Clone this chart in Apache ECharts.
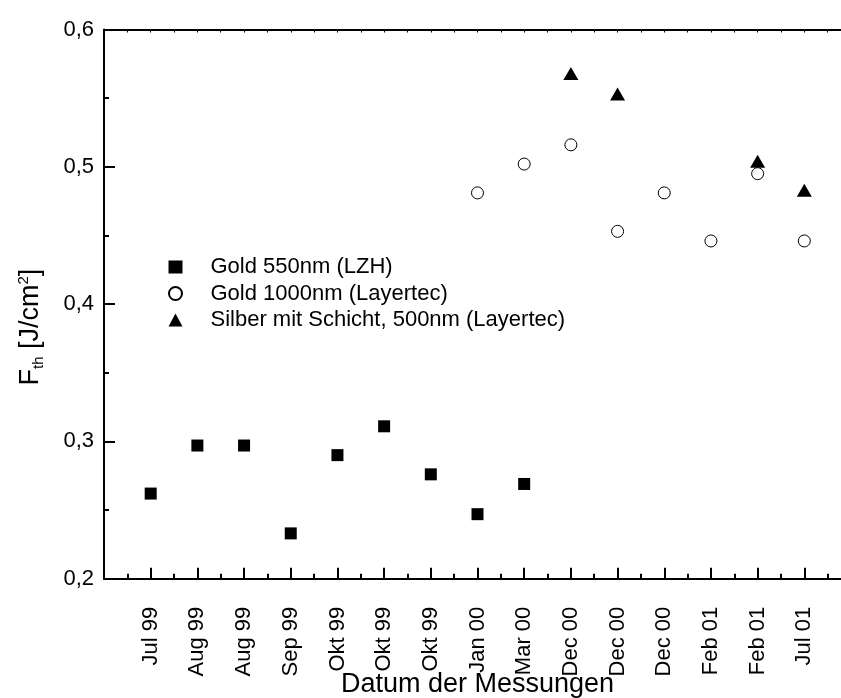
<!DOCTYPE html>
<html>
<head>
<meta charset="utf-8">
<style>
html,body{margin:0;padding:0;background:#fff;}
#chart{width:841px;height:698px;}
</style>
<script src="https://cdn.jsdelivr.net/npm/echarts@6/dist/echarts.min.js"></script>
</head>
<body>
<div id="chart"></div>
<script>
// Categories (measurement dates)
const categories = ['Jul 99','Aug 99','Aug 99','Sep 99','Okt 99','Okt 99','Okt 99','Jan 00','Mar 00','Dec 00','Dec 00','Dec 00','Feb 01','Feb 01','Jul 01'];
// Series values aligned to categories (null = no measurement)
const gold550  = [0.262,0.297,0.297,0.233,0.290,0.311,0.276,0.247,0.269,null,null,null,null,null,null];
const gold1000 = [null,null,null,null,null,null,null,0.481,0.502,0.516,0.453,0.481,0.446,0.495,0.446];
const silber   = [null,null,null,null,null,null,null,null,null,0.568,0.553,null,null,0.504,0.483];
const seriesNames = ['Gold 550nm (LZH)','Gold 1000nm (Layertec)','Silber mit Schicht, 500nm (Layertec)'];
const yTicks = [0.2,0.3,0.4,0.5,0.6];

function toPoints(arr){
  const out = [];
  arr.forEach((v,i)=>{ if(v!==null) out.push([i+1, v]); });
  return out;
}

const FONT = 'Liberation Sans, Arial, sans-serif';
const chart = echarts.init(document.getElementById('chart'), null, {renderer:'canvas'});

const option = {
  animation: false,
  backgroundColor: '#fff',
  textStyle: { fontFamily: FONT, color: '#000' },
  grid: { left: 104, top: 29.5, right: -10, bottom: 119.3, containLabel: false, outerBoundsMode: 'none' },
  legend: {
    orient: 'vertical',
    left: 168, top: 256,
    padding: 0,
    itemWidth: 14, itemHeight: 13, itemGap: 4.5,
    textStyle: { fontFamily: FONT, fontSize: 22, color: '#000', padding: [0,0,0,23] },
    data: seriesNames
  },
  xAxis: [{
    type: 'value',
    min: 0, max: 16, interval: 1,
    position: 'bottom',
    splitLine: { show: false },
    axisLine: { show: true, lineStyle: { color: '#000', width: 2 } },
    axisTick: { show: true, inside: true, length: 11, lineStyle: { color: '#000', width: 2 } },
    minorTick: { show: true, splitNumber: 2, length: 5, lineStyle: { color: '#000', width: 2 } },
    minorSplitLine: { show: false },
    axisLabel: {
      rotate: 90, margin: 28, fontSize: 22, fontFamily: FONT, color: '#000',
      formatter: function(v){ return (v>=1 && v<=categories.length) ? categories[v-1] : ''; }
    },
    name: 'Datum der Messungen',
    nameLocation: 'middle',
    nameGap: 92,
    nameMoveOverlap: false,
    nameTextStyle: { fontSize: 27, fontFamily: FONT, color: '#000' }
  },{
    type: 'value',
    min: 0, max: 16, interval: 1,
    position: 'top',
    splitLine: { show: false },
    axisLine: { show: true, lineStyle: { color: '#000', width: 2 } },
    axisTick: { show: true, inside: true, length: 3, lineStyle: { color: '#000', width: 1 } },
    minorTick: { show: true, splitNumber: 2, length: 3, lineStyle: { color: '#000', width: 1 } },
    axisLabel: { show: false }
  }],
  yAxis: {
    type: 'value',
    min: yTicks[0], max: yTicks[yTicks.length-1], interval: 0.1,
    splitLine: { show: false },
    axisLine: { show: true, lineStyle: { color: '#000', width: 2 } },
    axisTick: { show: true, inside: true, length: 11, lineStyle: { color: '#000', width: 2 } },
    minorTick: { show: true, splitNumber: 2, length: 5, lineStyle: { color: '#000', width: 2 } },
    axisLabel: {
      margin: 10, fontSize: 22, fontFamily: FONT, color: '#000',
      formatter: function(v){ return v.toFixed(1).replace('.', ','); }
    },
    name: '{f|F}{s|th}{f| [J/cm}{p|2}{f|]}',
    nameLocation: 'middle',
    nameGap: 58,
    nameMoveOverlap: false,
    nameTextStyle: {
      fontFamily: FONT, color: '#000',
      padding: [0, 46, 0, 0],
      rich: {
        f: { fontSize: 27, fontFamily: FONT, color: '#000', lineHeight: 30 },
        s: { fontSize: 15, fontFamily: FONT, color: '#000', verticalAlign: 'bottom', lineHeight: 15 },
        p: { fontSize: 15, fontFamily: FONT, color: '#000', verticalAlign: 'top', lineHeight: 15 }
      }
    }
  },
  series: [{
    name: seriesNames[0], type: 'scatter', xAxisIndex: 0,
    symbol: 'rect', symbolSize: 12,
    itemStyle: { color: '#000', opacity: 1 },
    data: toPoints(gold550)
  },{
    name: seriesNames[1], type: 'scatter', xAxisIndex: 0,
    symbol: 'circle', symbolSize: 12,
    itemStyle: { color: '#fff', borderColor: '#000', borderWidth: 1, opacity: 1 },
    data: toPoints(gold1000)
  },{
    name: seriesNames[2], type: 'scatter', xAxisIndex: 0,
    symbol: 'triangle', symbolSize: [15,13],
    itemStyle: { color: '#000', opacity: 1 },
    data: toPoints(silber)
  }]
};
chart.setOption(option);
</script>
</body>
</html>
